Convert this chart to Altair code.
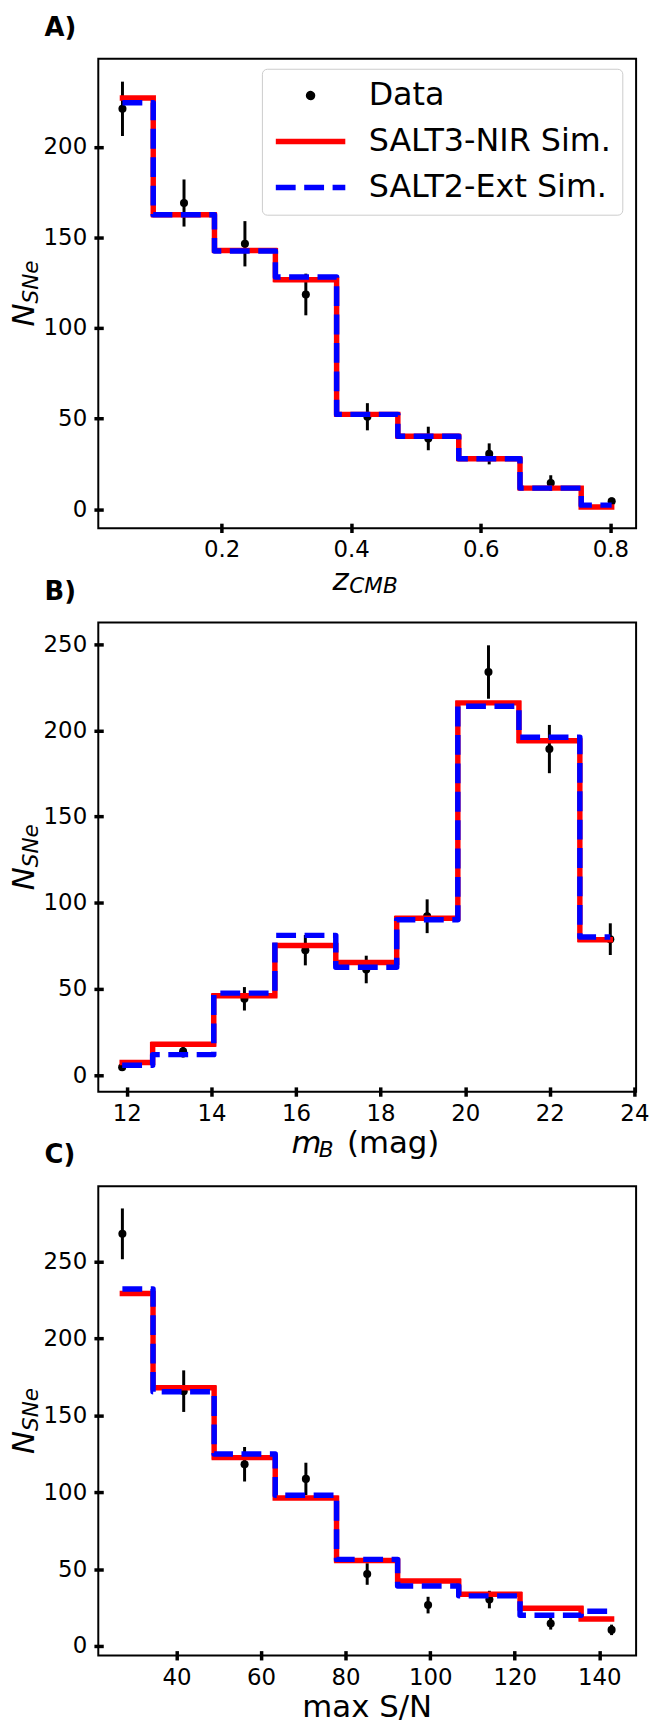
import altair as alt
import pandas as pd

SERIES = ["Data", "SALT3-NIR Sim.", "SALT2-Ext Sim."]
COLORS = ["black", "red", "blue"]
FONT = "DejaVu Sans"

# ---- Panel A: z_CMB ----
a_x = [0.047, 0.142, 0.236, 0.330, 0.425, 0.519, 0.613, 0.708, 0.802]
a_data = [221, 169, 146.5, 118.5, 51, 39, 30.5, 14.4, 4.3]
a_err = [15, 13, 12.5, 11.5, 7.5, 6.5, 5.8, 4.3, 2.1]
a_salt3 = [227, 162.5, 142.8, 126.6, 52.3, 40.2, 27.8, 11.6, 1.2]
a_salt2 = [224.3, 162.5, 142.5, 128.2, 52.3, 40.2, 27.8, 11.6, 2.2]
a_xticks = [0.2, 0.4, 0.6, 0.8]
a_yticks = [0, 50, 100, 150, 200]

# ---- Panel B: m_B ----
b_x = [11.89, 13.33, 14.78, 16.22, 17.66, 19.10, 20.55, 21.99, 23.43]
b_data = [4.6, 13.9, 44.3, 72.5, 61.3, 92.2, 233.9, 189.2, 78.9]
b_err = [2.2, 3.7, 6.8, 8.8, 8.0, 9.8, 15.5, 14.0, 9.2]
b_salt3 = [7.3, 17.9, 46.1, 75.2, 65.3, 91.0, 216.0, 194.0, 78.5]
b_salt2 = [5.7, 11.9, 47.6, 81.1, 62.6, 90.2, 214.0, 196.0, 80.2]
b_xticks = [12, 14, 16, 18, 20, 22, 24]
b_yticks = [0, 50, 100, 150, 200, 250]

# ---- Panel C: max S/N ----
c_x = [27.2, 41.7, 56.1, 70.6, 85.1, 99.5, 114.0, 128.5, 142.9]
c_data = [267.8, 165.6, 118.1, 108.6, 46.8, 26.6, 30.2, 14.7, 10.5]
c_err = [16.5, 13.5, 11.2, 10.5, 7.0, 5.4, 5.7, 4.0, 3.4]
c_salt3 = [229.1, 167.8, 122.4, 96.2, 55.6, 42.3, 33.7, 24.5, 17.6]
c_salt2 = [231.9, 165.2, 124.8, 97.9, 56.3, 39.0, 32.6, 20.0, 22.6]
c_xticks = [40, 60, 80, 100, 120, 140]
c_yticks = [0, 50, 100, 150, 200, 250]

W, H = 541.7, 472.7
DOT_PATH = "M-0.057,0A0.057,0.057,0,1,1,0.057,0A0.057,0.057,0,1,1,-0.057,0Z"

color_scale = alt.Scale(domain=SERIES, range=COLORS)
dash_scale = alt.Scale(domain=SERIES, range=[[1, 0], [1, 0], [20, 8.6]])
shape_scale = alt.Scale(domain=SERIES, range=[DOT_PATH, "stroke", "stroke"])


def txt(text, x, y, size, italic=False, bold=False, angle=0, align="left"):
    return alt.Chart(pd.DataFrame({"t": [text]})).mark_text(
        align=align, baseline="alphabetic", font=FONT, fontSize=size,
        fontStyle="italic" if italic else "normal",
        fontWeight="bold" if bold else "normal",
        angle=angle, color="black",
    ).encode(text="t:N", x=alt.value(x), y=alt.value(y))


def make_panel(label, xs, data, err, s3, s2, xdom, ydom, xticks, yticks, xfmt,
               xtitle, with_legend):
    df_pts = pd.DataFrame({
        "x": xs, "y": data,
        "lo": [d - e for d, e in zip(data, err)],
        "hi": [d + e for d, e in zip(data, err)],
        "series": SERIES[0],
    })
    df_s3 = pd.DataFrame({"x": xs, "y": s3, "series": SERIES[1]})
    df_s2 = pd.DataFrame({"x": xs, "y": s2, "series": SERIES[2]})

    xscale = alt.Scale(domain=xdom, nice=False, zero=False)
    yscale = alt.Scale(domain=ydom, nice=False, zero=False)
    xaxis = alt.Axis(values=xticks, format=xfmt, title=None, grid=False, domain=False,
                     tickSize=9.4, tickWidth=3.5, tickColor="black", offset=-5,
                     labelFont=FONT, labelFontSize=23, labelColor="black",
                     labelPadding=6.6, labelFlush=False, labelOverlap=False)
    yaxis = alt.Axis(values=yticks, format="d", title=None, grid=False, domain=False,
                     tickSize=9.4, tickWidth=3.5, tickColor="black", offset=-5,
                     labelFont=FONT, labelFontSize=23, labelColor="black",
                     labelPadding=7.3, labelFlush=False, labelOverlap=False)
    X = alt.X("x:Q", scale=xscale, axis=xaxis)

    if with_legend:
        leg = alt.Legend(title=None, orient="none", legendX=164.8, legendY=10,
                         direction="vertical", padding=11,
                         fillColor="rgba(255,255,255,0.8)", strokeColor="#cccccc",
                         cornerRadius=5, labelFont=FONT, labelFontSize=32,
                         labelColor="black", labelLimit=500, symbolSize=4900,
                         symbolStrokeWidth=5.5, clipHeight=32, rowPadding=14.3,
                         labelOffset=20.5, symbolOffset=0)
    else:
        leg = None

    err_layer = alt.Chart(df_pts).mark_rule(color="black", strokeWidth=3).encode(
        x=X, y=alt.Y("lo:Q", scale=yscale, axis=yaxis), y2="hi:Q")
    pts_layer = alt.Chart(df_pts).mark_circle(size=66, color="black", opacity=1).encode(
        x=X, y=alt.Y("y:Q", scale=yscale, axis=yaxis))

    def line_layer(df, cap):
        return alt.Chart(df).mark_line(interpolate="step", strokeWidth=5.5,
                                       strokeCap=cap, strokeJoin="round").encode(
            x=X, y=alt.Y("y:Q", scale=yscale, axis=yaxis),
            color=alt.Color("series:N", scale=color_scale, legend=leg, title=None),
            strokeDash=alt.StrokeDash("series:N", scale=dash_scale, legend=leg, title=None),
        )

    layers = [err_layer, pts_layer, line_layer(df_s3, "square"), line_layer(df_s2, "butt")]

    if with_legend:
        hidden = alt.Chart(df_pts).mark_point(filled=True, opacity=1).encode(
            x=X, y=alt.Y("y:Q", scale=yscale, axis=yaxis),
            color=alt.Color("series:N", scale=color_scale, legend=leg, title=None),
            shape=alt.Shape("series:N", scale=shape_scale, legend=leg, title=None),
        ).transform_filter("false")
        layers.append(hidden)
        pin = alt.Chart(pd.DataFrame({"k": [0]})).mark_rect(opacity=0).encode(
            x=alt.value(-97.5), x2=alt.value(-92), y=alt.value(-51.8), y2=alt.value(-47))
        layers.append(pin)

    # y title N_SNe (rotated)
    layers.append(txt("N", -64.5, 269.65, 31, italic=True, angle=270))
    layers.append(txt("SNe", -61, 246.45, 21.7, italic=True, angle=270))
    # panel label
    layers.append(txt(label, -54.2, -23, 26, bold=True))
    # x title
    base = H + 62
    for (t, xx, size, italic, sub) in xtitle:
        if xx is None:
            layers.append(txt(t, W / 2, base, size, italic=italic, align="center"))
        else:
            layers.append(txt(t, xx, base + (3.5 if sub else 0), size, italic=italic))

    return alt.layer(*layers).properties(width=W, height=H)


pA = make_panel("A)", a_x, a_data, a_err, a_salt3, a_salt2, [0.0097, 0.8397], [-10.5, 248.6],
                a_xticks, a_yticks, ".1f",
                [("z", 236, 31, True, False), ("CMB", 252.8, 21.7, True, True)], True)
pB = make_panel("B)", b_x, b_data, b_err, b_salt3, b_salt2, [11.325, 24.04], [-9.7, 262.6],
                b_xticks, b_yticks, "d",
                [("m", 194.5, 31, True, False), ("B", 222, 21.7, True, True),
                 ("(mag)", 250.5, 31, False, False)], False)
pC = make_panel("C)", c_x, c_data, c_err, c_salt3, c_salt2, [21.5, 148.7], [-6.2, 298.7],
                c_xticks, c_yticks, "d",
                [("max S/N", None, 31, False, False)], False)

chart = alt.vconcat(pA, pB, pC, spacing=94.8, bounds="flush").resolve_scale(
    x="independent", y="independent", color="independent",
    strokeDash="independent", shape="independent",
).configure_view(stroke="black", strokeWidth=2).properties(padding=0, background="white")

chart.save("out.html", embed_options={"renderer": "svg", "actions": False})
